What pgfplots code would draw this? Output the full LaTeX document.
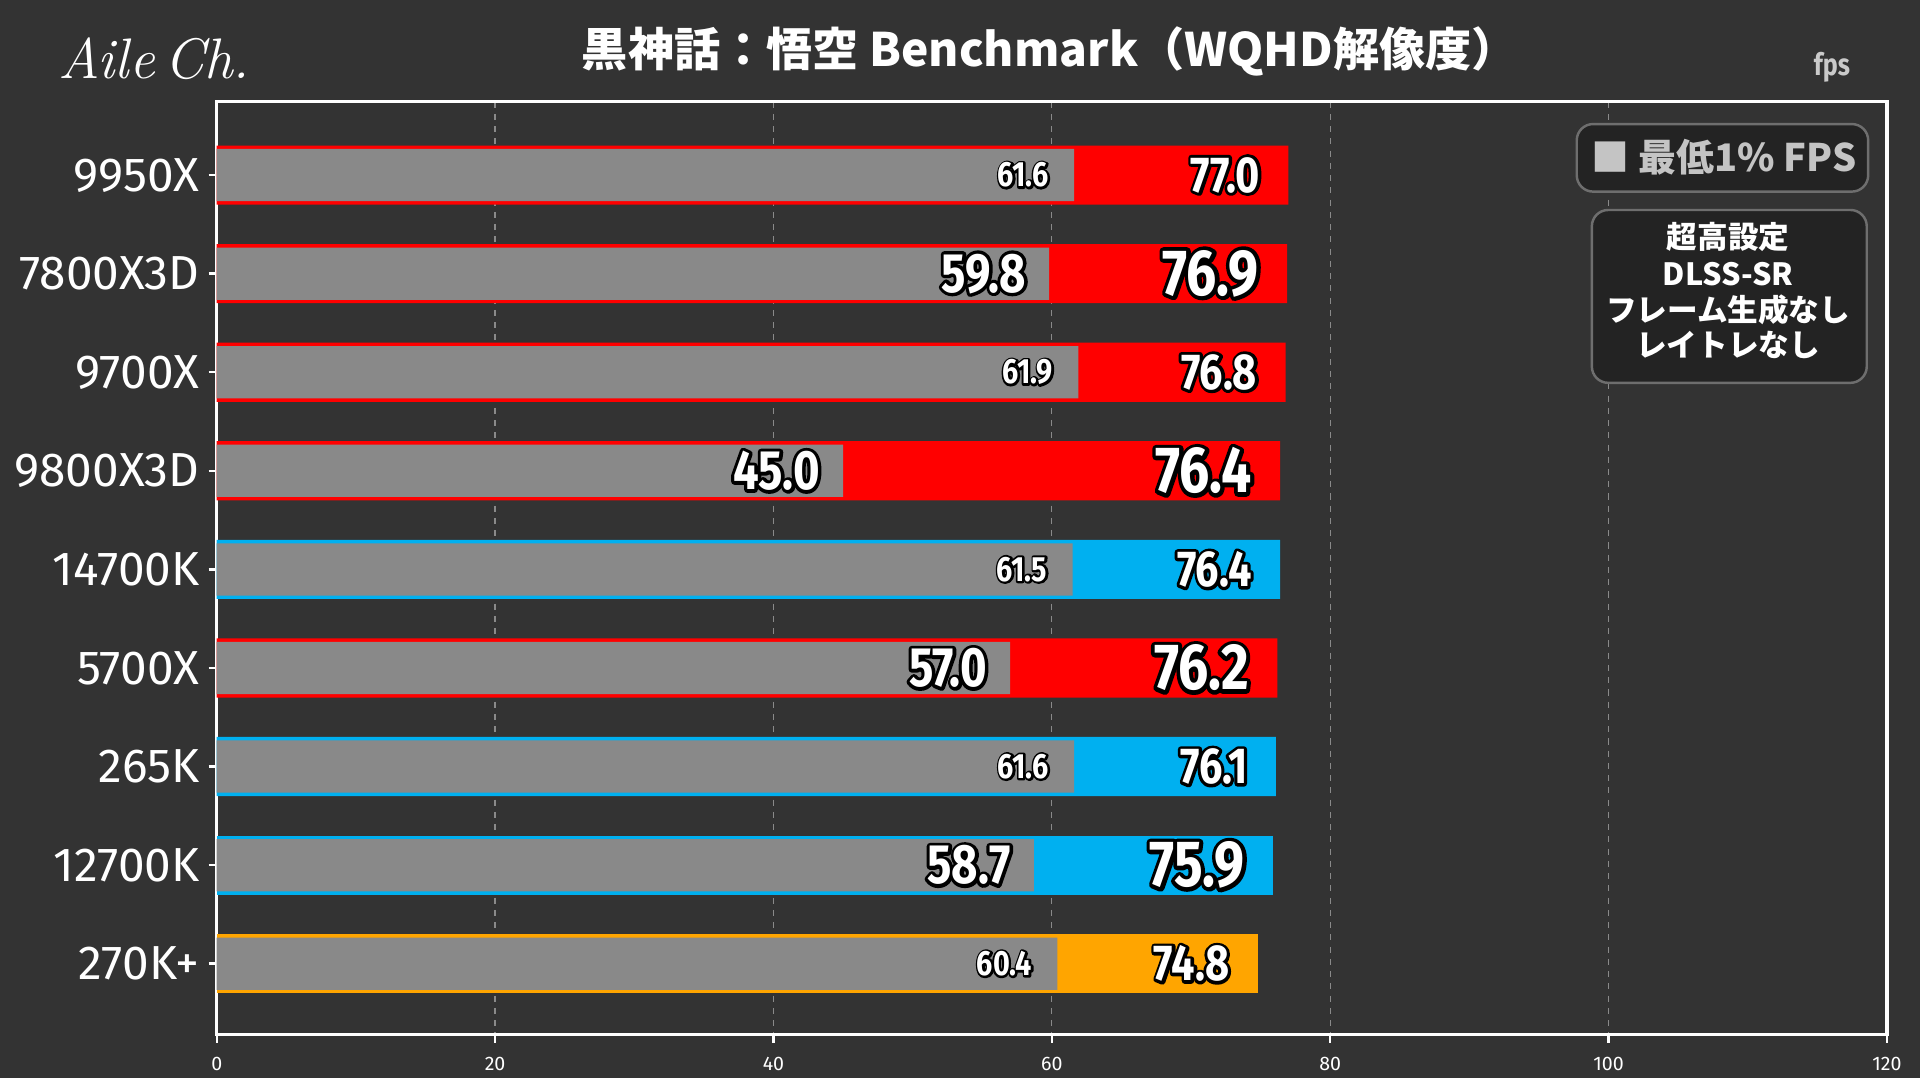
\documentclass[border=0pt]{standalone}
\usepackage{pgfplots}
\pgfplotsset{compat=1.18}
\usepackage{fontspec}
\setmainfont{Fira Sans}
\newfontfamily\jp{Noto Sans CJK JP}
\newfontfamily\numf[FakeStretch=0.82]{Fira Sans}
\newfontfamily\numfo[FakeStretch=0.82, FakeBold=12]{Fira Sans}
\newfontfamily\tickf{Fira Sans}
\definecolor{bg}{HTML}{333333}
\definecolor{amd}{HTML}{FF0000}
\definecolor{intel}{HTML}{00B0F0}
\definecolor{arrowc}{HTML}{FFA500}
\definecolor{lowc}{HTML}{898989}
\definecolor{gridc}{HTML}{8A8A8A}
\definecolor{boxbg}{HTML}{232323}
\definecolor{boxln}{HTML}{6E6E6E}
\definecolor{legtxt}{HTML}{C4C4C4}
% outlined label: a heavily emboldened black copy under a white copy
\newcommand\OL[1]{{\rlap{\color{black}\numfo #1}\color{white}#1}}
\pgfplotsset{
 avgbig/.style={draw=none, bar width=0.6, point meta=explicit symbolic,
   nodes near coords={\OL{\pgfplotspointmeta}},
   nodes near coords style={anchor=east, xshift=-6.8pt, inner sep=0pt, line join=round,
     font=\numf\bfseries\fontsize{16}{16}\selectfont}},
 avgmid/.style={draw=none, bar width=0.6, point meta=explicit symbolic,
   nodes near coords={\OL{\pgfplotspointmeta}},
   nodes near coords style={anchor=east, xshift=-6.8pt, inner sep=0pt, line join=round,
     font=\numf\bfseries\fontsize{12.4}{12.4}\selectfont}},
 lowbig/.style={fill=lowc, draw=none, bar width=0.53, point meta=explicit symbolic,
   nodes near coords={\OL{\pgfplotspointmeta}},
   nodes near coords style={anchor=east, xshift=-5.5pt, inner sep=0pt, line join=round,
     font=\numf\bfseries\fontsize{13.6}{13.6}\selectfont}},
 lowsmall/.style={fill=lowc, draw=none, bar width=0.53, point meta=explicit symbolic,
   nodes near coords={\OL{\pgfplotspointmeta}},
   nodes near coords style={anchor=east, xshift=-6pt, inner sep=0pt, line join=round,
     font=\numf\bfseries\fontsize{8.6}{8.6}\selectfont}},
}
\begin{document}
\begin{tikzpicture}
\fill[bg] (0,0) rectangle (470.4pt,264pt);
\begin{axis}[
 at={(53.1pt,10.5pt)}, anchor=south west, scale only axis,
 width=409.2pt, height=228.6pt,
 xbar,
 every axis plot post/.append style={bar shift=0pt},
 xmin=0, xmax=120, ymin=-0.745, ymax=8.72, y dir=reverse,
 xtick={0,20,...,120}, ytick={0,...,8},
 yticklabels={9950X,7800X3D,9700X,9800X3D,14700K,5700X,265K,12700K,270K+},
 axis line style={white, line width=0.8pt},
 xmajorgrids,
 grid style={gridc, line width=0.3pt, dash pattern=on 1.5pt off 1.5pt},
 tick style={white, line width=0.6pt},
 tick align=outside, major tick length=2pt,
 xtick pos=bottom, ytick pos=left,
 /pgf/number format/assume math mode=true,
 x tick label style={font=\tickf\fontsize{4.8}{5}\selectfont, text=white},
 y tick label style={font=\tickf\fontsize{11.7}{12}\selectfont, text=white, xshift=1.3pt},
 clip=false,
]
% average FPS (coloured bars)
\addplot[fill=amd, avgmid] coordinates {(77.0,0)[77.0] (76.8,2)[76.8]};
\addplot[fill=amd, avgbig] coordinates {(76.9,1)[76.9] (76.4,3)[76.4] (76.2,5)[76.2]};
\addplot[fill=intel, avgmid] coordinates {(76.4,4)[76.4] (76.1,6)[76.1]};
\addplot[fill=intel, avgbig] coordinates {(75.9,7)[75.9]};
\addplot[fill=arrowc, avgmid] coordinates {(74.8,8)[74.8]};
% 1% low FPS (grey bars)
\addplot[lowsmall] coordinates {(61.6,0)[61.6] (61.9,2)[61.9] (61.5,4)[61.5] (61.6,6)[61.6] (60.4,8)[60.4]};
\addplot[lowbig] coordinates {(59.8,1)[59.8] (45.0,3)[45.0] (57.0,5)[57.0] (58.7,7)[58.7]};
\end{axis}
% title and annotations
\node[text=white, font=\jp\bfseries\fontsize{11.3}{12}\selectfont] at (257.2pt,251.4pt) {黒神話：悟空 Benchmark（WQHD解像度）};
\node[text=white, font=\fontsize{14}{14}\selectfont] at (37.8pt,249.6pt) {\fontspec{Latin Modern Roman}\itshape Aile\,Ch.};
\node[text=legtxt!90!white, font=\numf\bfseries\fontsize{7.5}{8}\selectfont] at (448.8pt,247.5pt) {fps};
\draw[boxln, fill=boxbg, line width=0.6pt, rounded corners=4pt] (386.3pt,217.05pt) rectangle (457.7pt,233.6pt);
\node[text=legtxt, font=\jp\bfseries\fontsize{9.3}{10}\selectfont] at (422.4pt,225.6pt) {■ 最低1\% FPS};
\draw[boxln, fill=boxbg, line width=0.6pt, rounded corners=4pt] (390pt,170.2pt) rectangle (457.35pt,212.55pt);
\begin{scope}[every node/.style={text=white, font=\jp\bfseries\fontsize{7.5}{8}\selectfont}]
\node at (423.4pt,205.9pt) {超高設定};
\node at (423.4pt,196.9pt) {DLSS-SR};
\node at (423.4pt,188.0pt) {フレーム生成なし};
\node at (423.4pt,179.4pt) {レイトレなし};
\end{scope}
\pgfresetboundingbox
\useasboundingbox (0,0) rectangle (470.4pt,264pt);
\end{tikzpicture}
\end{document}
